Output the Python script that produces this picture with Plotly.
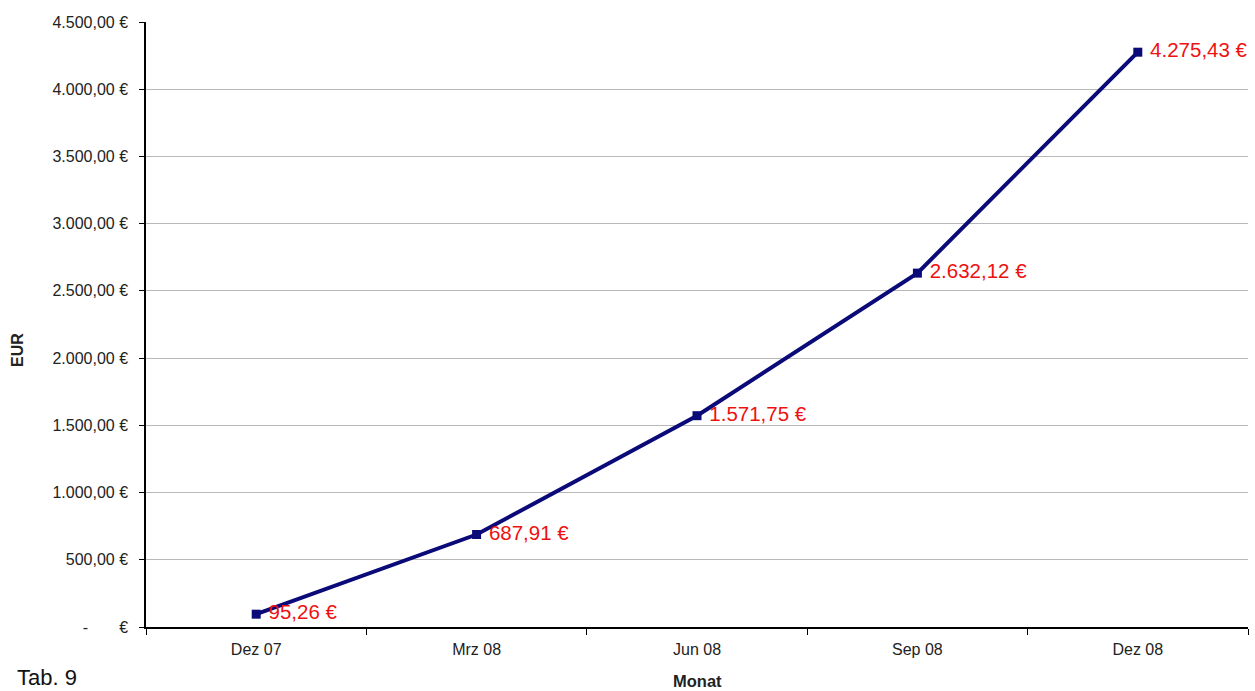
import plotly.graph_objects as go

months = ["Dez 07", "Mrz 08", "Jun 08", "Sep 08", "Dez 08"]
values = [95.26, 687.91, 1571.75, 2632.12, 4275.43]
value_labels = ["95,26 €", "687,91 €", "1.571,75 €", "2.632,12 €", "4.275,43 €"]

y_ticks = [0, 500, 1000, 1500, 2000, 2500, 3000, 3500, 4000, 4500]
y_tick_labels = ["-\u00a0\u00a0\u00a0\u00a0\u00a0\u00a0\u00a0€", "500,00 €", "1.000,00 €", "1.500,00 €",
                 "2.000,00 €", "2.500,00 €", "3.000,00 €", "3.500,00 €",
                 "4.000,00 €", "4.500,00 €"]

FONT = "Arial, Liberation Sans, sans-serif"
W, H = 1255, 691
L, R, T, B = 146, 7, 22, 64
PW, PH = W - L - R, H - T - B


def px_to_paper(px, py):
    """Convert pixel position on the page to paper coordinates."""
    return (px - L) / PW, (H - B - py) / PH


fig = go.Figure()
fig.add_trace(go.Scatter(
    x=months,
    y=values,
    mode="lines+markers+text",
    line=dict(color="#0a0a78", width=4),
    marker=dict(symbol="square", size=9, color="#0a0a78"),
    text=["\u00a0" + t for t in value_labels],
    textposition="middle right",
    textfont=dict(family=FONT, size=20.5, color="#ee1111"),
    cliponaxis=False,
    showlegend=False,
))

tab_x, tab_y = px_to_paper(15, 678)
eur_x, eur_y = px_to_paper(17, 350)
mon_x, mon_y = px_to_paper(697, 681)

fig.update_layout(
    width=W,
    height=H,
    margin=dict(l=L, r=R, t=T, b=B),
    paper_bgcolor="white",
    plot_bgcolor="white",
    font=dict(family=FONT, size=16, color="#222222"),
    xaxis=dict(
        type="category",
        range=[-0.5, 4.5],
        tickson="boundaries",
        ticks="outside",
        ticklen=6,
        tickcolor="#000000",
        showline=True,
        linecolor="#000000",
        linewidth=1.5,
        showgrid=False,
        ticklabelstandoff=7,
        tickfont=dict(size=16, color="#222222"),
    ),
    yaxis=dict(
        range=[0, 4500],
        tickvals=y_ticks,
        ticktext=y_tick_labels,
        ticks="outside",
        ticklen=5,
        tickcolor="#000000",
        showline=True,
        linecolor="#000000",
        linewidth=1.5,
        showgrid=True,
        gridcolor="#b8b8b8",
        gridwidth=1,
        zeroline=False,
        ticklabelstandoff=8,
        tickfont=dict(size=16, color="#222222"),
    ),
    annotations=[
        dict(text="Tab. 9", x=tab_x, y=tab_y, xref="paper", yref="paper", showarrow=False,
             font=dict(size=22, color="#111111"), xanchor="left", yanchor="middle"),
        dict(text="<b>EUR</b>", x=eur_x, y=eur_y, xref="paper", yref="paper", showarrow=False,
             textangle=-90, font=dict(size=16, color="#222222"),
             xanchor="center", yanchor="middle"),
        dict(text="<b>Monat</b>", x=mon_x, y=mon_y, xref="paper", yref="paper", showarrow=False,
             font=dict(size=16.5, color="#222222"), xanchor="center", yanchor="middle"),
    ],
)

fig.write_html("out.html")
